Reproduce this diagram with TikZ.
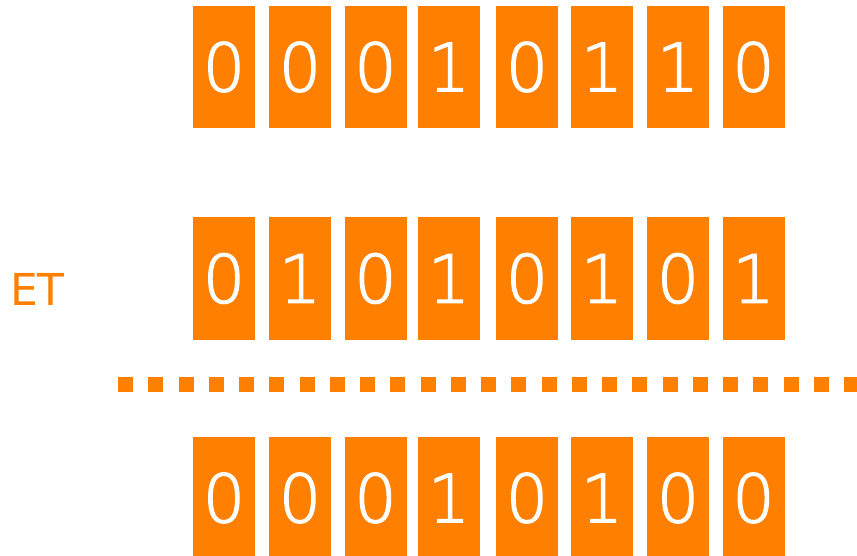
\documentclass[tikz,border=0pt]{standalone}
\usepackage{fontspec}
\setmainfont{DejaVu Sans}
\newfontfamily\digitfont[FakeBold=2]{DejaVu Sans ExtraLight}
\definecolor{bitorange}{HTML}{FF8000}
\begin{document}
\begin{tikzpicture}[x=0.75pt,y=-0.75pt,
  bitbox/.style={fill=bitorange,draw=none,minimum width=46.5pt,minimum height=91.5pt,inner sep=0pt,text=white,font=\digitfont\fontsize{50}{50}\selectfont},
  sepline/.style={draw=bitorange,line width=11.25pt,dash pattern=on 11.25pt off 11.44pt},
  lbl/.style={text=bitorange,font=\fontsize{33}{33}\selectfont,inner sep=0pt}]
\useasboundingbox (0,0) rectangle (857,556);
\def\xs{{224,300,375.5,449,527,602,678,753.5}}
\foreach \b [count=\i from 0] in {0,0,0,1,0,1,1,0}{
  \pgfmathsetmacro{\xc}{\xs[\i]}
  \node[bitbox] (a\i) at (\xc,67) {\b};
}
\foreach \b [count=\i from 0] in {0,1,0,1,0,1,0,1}{
  \pgfmathsetmacro{\xc}{\xs[\i]}
  \node[bitbox] (b\i) at (\xc,278.5) {\b};
}
\foreach \b [count=\i from 0] in {0,0,0,1,0,1,0,0}{
  \pgfmathsetmacro{\xc}{\xs[\i]}
  \node[bitbox] (c\i) at (\xc,498) {\b};
}
\node[lbl] (et) at (37.5,289) {ET};
\coordinate (sepL) at (118,384.5);
\coordinate (sepR) at (880,384.5);
\draw[sepline] (sepL) -- (sepR);
\end{tikzpicture}
\end{document}
